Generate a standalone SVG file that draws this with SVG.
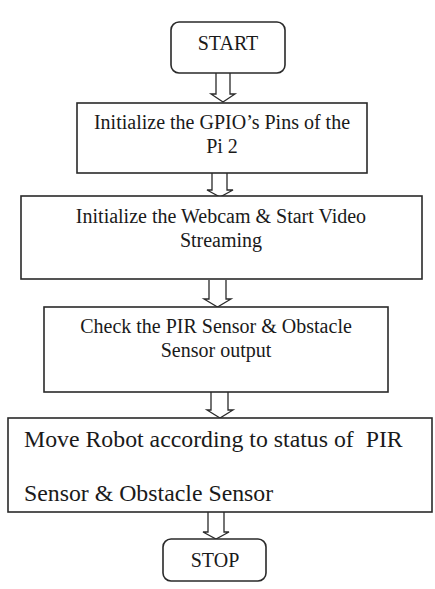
<svg xmlns="http://www.w3.org/2000/svg" width="435" height="589" viewBox="0 0 435 589">
<style>
.box{fill:#fff;stroke:#2a2a2a;stroke-width:1.6}
.arr{fill:#fff;stroke:#2a2a2a;stroke-width:1.3;stroke-linejoin:miter}
text{font-family:"Liberation Serif","Times New Roman",serif;font-size:20px;fill:#1a1a1a}
.c{text-anchor:middle}
.big{font-size:23.8px}
</style>
<rect width="435" height="589" fill="#fff"/>
<g id="connectors">
<path class="arr" d="M216,73 V94 H211 L223,102 L235,94 H230 V73"/>
<path class="arr" d="M212,173 V190 H207 L220,197 L233,190 H227 V173"/>
<path class="arr" d="M209,280 V299 H204 L217.5,307 L231,299 H226 V280"/>
<path class="arr" d="M211,392 V410 H207 L220,418 L233,410 H228 V392"/>
<path class="arr" d="M208,512 V532 H203 L216,539 L229,532 H224 V512"/>
</g>
<g id="start">
<rect class="box" x="171" y="22" width="114" height="51" rx="8"/>
<text class="c" x="228" y="50">START</text>
</g>
<g id="gpio">
<rect class="box" x="77" y="103" width="290" height="70"/>
<text class="c" x="222" y="129">Initialize the GPIO’s Pins of the</text>
<text class="c" x="222" y="153">Pi 2</text>
</g>
<g id="webcam">
<rect class="box" x="21" y="196" width="401" height="83"/>
<text class="c" x="221" y="223">Initialize the Webcam &amp; Start Video</text>
<text class="c" x="221" y="247">Streaming</text>
</g>
<g id="check">
<rect class="box" x="44" y="307" width="344" height="85"/>
<text class="c" x="216" y="333">Check the PIR Sensor &amp; Obstacle</text>
<text class="c" x="216" y="357">Sensor output</text>
</g>
<g id="move">
<rect class="box" x="8" y="418" width="424" height="94"/>
<text class="big" x="24" y="447" xml:space="preserve">Move Robot according to status of  PIR</text>
<text class="big" x="24" y="501">Sensor &amp; Obstacle Sensor</text>
</g>
<g id="stop">
<rect class="box" x="163" y="539" width="103" height="42" rx="8"/>
<text class="c" x="215" y="567">STOP</text>
</g>
</svg>
